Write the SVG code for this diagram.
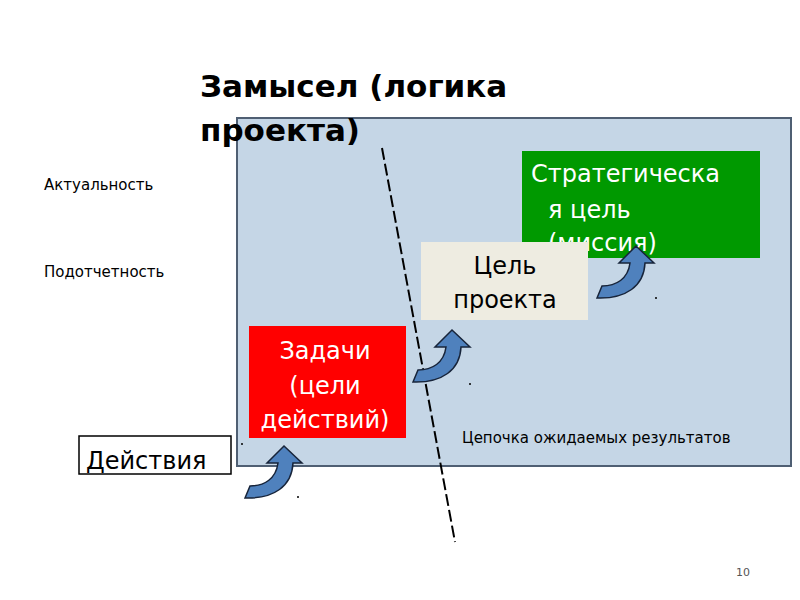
<svg xmlns="http://www.w3.org/2000/svg" width="800" height="600" viewBox="0 0 800 600">
<style>
text{font-family:"DejaVu Sans","Liberation Sans",sans-serif}
.big{font-size:24px}
.arr{fill:#4f81bd;stroke:#17243a;stroke-width:1.5}
</style>
<defs><path id="ca" class="arr" d="M0,0 L18,17 L9,17 C8,40 -10,53 -39,52 L-34,40 C-20,40 -8,33 -6,17 L-17,17 Z"/></defs>
<rect width="800" height="600" fill="#fff"/>
<g id="frame"><rect x="237" y="118" width="554" height="348" fill="#c5d6e6" stroke="#4f5f73" stroke-width="2"/>
<text x="462" y="443" font-size="15">Цепочка ожидаемых результатов</text></g>
<g id="title"><text x="200" y="97" font-size="31" font-weight="bold">Замысел (логика</text><text x="200" y="141" font-size="31" font-weight="bold">проекта)</text></g>
<text x="44" y="190" font-size="15">Актуальность</text>
<text x="44" y="277" font-size="15">Подотчетность</text>
<g id="strategic"><rect x="522" y="151" width="238" height="107" fill="#009900"/>
<text class="big" fill="#fff" x="531" y="182">Стратегическа</text><text class="big" fill="#fff" x="548" y="218">я  цель</text><text class="big" fill="#fff" x="548" y="251">(миссия)</text></g>
<g id="goal"><rect x="421" y="242" width="167" height="78" fill="#eeece1"/>
<text class="big" x="505" y="274" text-anchor="middle">Цель</text><text class="big" x="505" y="308" text-anchor="middle">проекта</text></g>
<g id="tasks"><rect x="249" y="326" width="157" height="112" fill="#f00"/>
<text class="big" fill="#fff" x="325" y="359" text-anchor="middle">Задачи</text><text class="big" fill="#fff" x="325" y="394" text-anchor="middle">(цели</text><text class="big" fill="#fff" x="325" y="428" text-anchor="middle">действий)</text></g>
<g id="actions"><rect x="79" y="436" width="152" height="38" fill="#fff" stroke="#000" stroke-width="1.5"/>
<text x="86" y="469" font-size="24">Действия</text></g>
<g id="connectors">
<line x1="382" y1="148" x2="455" y2="542" stroke="#000" stroke-width="2" stroke-dasharray="12,4"/>
<use href="#ca" x="452" y="330"/>
<use href="#ca" x="284" y="446"/>
<use href="#ca" x="636" y="246"/>
</g>
<g fill="#000"><circle cx="242" cy="444" r="1"/><circle cx="298" cy="497" r="1"/><circle cx="470" cy="384" r="1"/><circle cx="656" cy="298" r="1"/></g>
<text x="743" y="576" font-size="11" fill="#555" text-anchor="middle">10</text>
</svg>
